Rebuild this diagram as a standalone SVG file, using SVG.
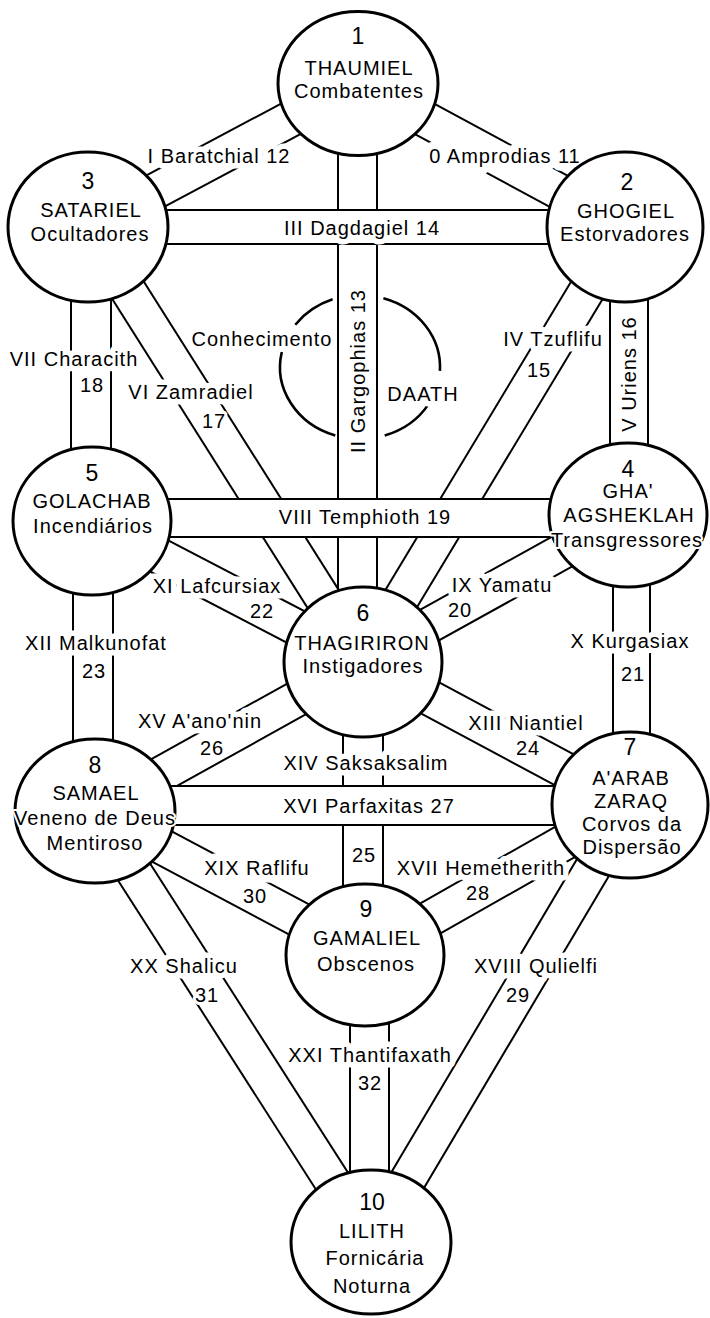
<svg xmlns="http://www.w3.org/2000/svg" width="710" height="1318" viewBox="0 0 710 1318">
<style>
.ln{stroke:#000;stroke-width:2;fill:none}
.bandbg{fill:#fff;stroke:none}
.arc{stroke:#000;stroke-width:2.6;fill:none}
.nd{fill:#fff;stroke:#000;stroke-width:3}
text{font-family:"Liberation Sans",Arial,sans-serif;font-size:20px;letter-spacing:1px;fill:#000;text-anchor:middle}
.lb{stroke:#fff;stroke-width:11;stroke-linejoin:round;paint-order:stroke}
.lbw{stroke:#fff;stroke-width:15;stroke-linejoin:round;paint-order:stroke}
.lbn{stroke:#fff;stroke-width:6;stroke-linejoin:round;paint-order:stroke}
.vt{stroke:none}
.nt{stroke:#fff;stroke-width:4;stroke-linejoin:round;paint-order:stroke}
.num{font-size:23px;letter-spacing:0}
</style>
<rect x="0" y="0" width="710" height="1318" fill="#fff"/>
<g id="connectors">
  <!-- diagonal paths -->
  <line class="ln" x1="349.5" y1="98.8" x2="616.5" y2="242.8"/>
  <line class="ln" x1="366.5" y1="67.2" x2="633.5" y2="211.2"/>
  <line class="ln" x1="349.5" y1="67.1" x2="79.5" y2="211.1"/>
  <line class="ln" x1="366.5" y1="98.9" x2="96.5" y2="242.9"/>
  <line class="ln" x1="609.6" y1="217.7" x2="347.6" y2="652.7"/>
  <line class="ln" x1="640.4" y1="236.3" x2="378.4" y2="671.3"/>
  <line class="ln" x1="72.8" y1="236.6" x2="347.8" y2="671.6"/>
  <line class="ln" x1="103.2" y1="217.4" x2="378.2" y2="652.4"/>
  <line class="ln" x1="619.3" y1="499.3" x2="354.3" y2="646.3"/>
  <line class="ln" x1="636.7" y1="530.7" x2="371.7" y2="677.7"/>
  <line class="ln" x1="83.7" y1="537" x2="354.7" y2="678"/>
  <line class="ln" x1="100.3" y1="505" x2="371.3" y2="646"/>
  <line class="ln" x1="354.5" y1="677.9" x2="621.5" y2="820.9"/>
  <line class="ln" x1="371.5" y1="646.1" x2="638.5" y2="789.1"/>
  <line class="ln" x1="354.3" y1="646.3" x2="86.3" y2="795.3"/>
  <line class="ln" x1="371.7" y1="677.7" x2="103.7" y2="826.7"/>
  <line class="ln" x1="621.1" y1="789.3" x2="357.1" y2="939.3"/>
  <line class="ln" x1="638.9" y1="820.7" x2="374.9" y2="970.7"/>
  <line class="ln" x1="614.5" y1="795.8" x2="355.5" y2="1232.8"/>
  <line class="ln" x1="645.5" y1="814.2" x2="386.5" y2="1251.2"/>
  <line class="ln" x1="86.6" y1="826.9" x2="357.6" y2="970.9"/>
  <line class="ln" x1="103.5" y1="795.1" x2="374.5" y2="939.1"/>
  <line class="ln" x1="79.8" y1="820.7" x2="355.8" y2="1251.7"/>
  <line class="ln" x1="110.2" y1="801.3" x2="386.2" y2="1232.3"/>
  <!-- vertical paths -->
  <line class="ln" x1="71" y1="227" x2="71" y2="521"/>
  <line class="ln" x1="111" y1="227" x2="111" y2="521"/>
  <line class="ln" x1="73" y1="521" x2="73" y2="811"/>
  <line class="ln" x1="113" y1="521" x2="113" y2="811"/>
  <line class="ln" x1="338" y1="83" x2="338" y2="662"/>
  <line class="ln" x1="377" y1="83" x2="377" y2="662"/>
  <line class="ln" x1="610" y1="227" x2="610" y2="515"/>
  <line class="ln" x1="648" y1="227" x2="648" y2="515"/>
  <line class="ln" x1="613" y1="515" x2="613" y2="805"/>
  <line class="ln" x1="650" y1="515" x2="650" y2="805"/>
  <line class="ln" x1="343" y1="662" x2="343" y2="955"/>
  <line class="ln" x1="383" y1="662" x2="383" y2="955"/>
  <line class="ln" x1="350" y1="955" x2="350" y2="1242"/>
  <line class="ln" x1="389" y1="955" x2="389" y2="1242"/>
  <!-- horizontal paths -->
  <rect class="bandbg" x="88" y="210" width="537" height="34"/>
  <line class="ln" x1="88" y1="210" x2="625" y2="210"/>
  <line class="ln" x1="88" y1="244" x2="625" y2="244"/>
  <rect class="bandbg" x="92" y="499" width="536" height="38"/>
  <line class="ln" x1="92" y1="499" x2="628" y2="499"/>
  <line class="ln" x1="92" y1="537" x2="628" y2="537"/>
  <rect class="bandbg" x="95" y="786" width="535" height="39"/>
  <line class="ln" x1="95" y1="786" x2="630" y2="786"/>
  <line class="ln" x1="95" y1="825" x2="630" y2="825"/>
  <!-- path labels -->
  <text class="lbw" x="505" y="163">0 Amprodias 11</text>
  <text class="lb" x="219" y="163">I Baratchial 12</text>
  <text class="vt" transform="translate(365,371) rotate(-90)">II Gargophias 13</text>
  <text class="lb" x="362" y="235">III Dagdagiel 14</text>
  <text class="lb" x="553" y="346">IV Tzuflifu</text>
  <text class="lbn" x="539" y="377">15</text>
  <text class="vt" transform="translate(636,374) rotate(-90)">V Uriens 16</text>
  <text class="lb" x="191" y="399">VI Zamradiel</text>
  <text class="lbn" x="214" y="428">17</text>
  <text class="lb" x="74" y="366">VII Characith</text>
  <text class="vt" x="92" y="392">18</text>
  <text class="lb" x="365" y="524">VIII Temphioth 19</text>
  <text class="lb" x="502" y="592">IX Yamatu</text>
  <text class="lbn" x="460" y="617">20</text>
  <text class="lb" x="630" y="648">X Kurgasiax</text>
  <text class="vt" x="633" y="681">21</text>
  <text class="lb" x="217" y="593">XI Lafcursiax</text>
  <text class="lbn" x="262" y="618">22</text>
  <text class="lb" x="96" y="650">XII Malkunofat</text>
  <text class="vt" x="94" y="678">23</text>
  <text class="lb" x="526" y="730">XIII Niantiel</text>
  <text class="lbn" x="528" y="755">24</text>
  <text class="lb" x="366" y="770">XIV Saksaksalim</text>
  <text class="vt" x="364" y="862">25</text>
  <text class="lb" x="200" y="728">XV A'ano'nin</text>
  <text class="lbn" x="212" y="755">26</text>
  <text class="lb" x="369" y="813">XVI Parfaxitas 27</text>
  <text class="lb" x="481" y="875">XVII Hemetherith</text>
  <text class="lbn" x="478" y="900">28</text>
  <text class="lb" x="536" y="973">XVIII Qulielfi</text>
  <text class="lbn" x="518" y="1002">29</text>
  <text class="lbw" x="257" y="875">XIX Raflifu</text>
  <text class="lbn" x="255" y="903">30</text>
  <text class="lb" x="184" y="973">XX Shalicu</text>
  <text class="lbn" x="207" y="1002">31</text>
  <text class="lb" x="370" y="1062">XXI Thantifaxath</text>
  <text class="vt" x="370" y="1090">32</text>
</g>
<g id="daath">
  <path class="arc" d="M 332.6 299.3 A 80 72 0 0 0 295.3 324.7"/>
  <path class="arc" d="M 281.8 352 A 80 72 0 0 0 335.3 435.5"/>
  <path class="arc" d="M 383.4 298.2 A 80 72 0 0 1 439.9 370.8"/>
  <path class="arc" d="M 428.6 404.1 A 80 72 0 0 1 384.7 435.5"/>
  <text class="lb" x="262" y="346">Conhecimento</text>
  <text class="lb" x="423" y="401">DAATH</text>
</g>
<g id="node1">
  <ellipse class="nd" cx="358" cy="83.5" rx="80" ry="72"/>
  <text class="nt num" x="358" y="44">1</text>
  <text class="nt" x="359" y="75">THAUMIEL</text>
  <text class="nt" x="359" y="98">Combatentes</text>
</g>
<g id="node2">
  <ellipse class="nd" cx="625" cy="227" rx="78" ry="75"/>
  <text class="nt num" x="627" y="190">2</text>
  <text class="nt" x="626" y="218">GHOGIEL</text>
  <text class="nt" x="625" y="241">Estorvadores</text>
</g>
<g id="node3">
  <ellipse class="nd" cx="88" cy="227" rx="80" ry="75"/>
  <text class="nt num" x="88" y="189">3</text>
  <text class="nt" x="91" y="217">SATARIEL</text>
  <text class="nt" x="90" y="241">Ocultadores</text>
</g>
<g id="node4">
  <ellipse class="nd" cx="628" cy="515" rx="79" ry="72"/>
  <text class="nt num" x="628" y="477">4</text>
  <text class="nt" x="628" y="498">GHA'</text>
  <text class="nt" x="629" y="522">AGSHEKLAH</text>
  <text class="nt" x="627" y="547">Transgressores</text>
</g>
<g id="node5">
  <ellipse class="nd" cx="92" cy="521" rx="79" ry="74"/>
  <text class="nt num" x="92" y="481">5</text>
  <text class="nt" x="92" y="508">GOLACHAB</text>
  <text class="nt" x="93" y="533">Incendiários</text>
</g>
<g id="node6">
  <ellipse class="nd" cx="363" cy="662" rx="79" ry="75"/>
  <text class="nt num" x="363" y="621">6</text>
  <text class="nt" x="362" y="650">THAGIRIRON</text>
  <text class="nt" x="363" y="673">Instigadores</text>
</g>
<g id="node7">
  <ellipse class="nd" cx="630" cy="805" rx="78" ry="73"/>
  <text class="nt num" x="630" y="755">7</text>
  <text class="nt" x="631" y="785">A'ARAB</text>
  <text class="nt" x="631" y="808">ZARAQ</text>
  <text class="nt" x="632" y="831">Corvos da</text>
  <text class="nt" x="632" y="854">Dispersão</text>
</g>
<g id="node8">
  <ellipse class="nd" cx="95" cy="811" rx="80" ry="72"/>
  <text class="nt num" x="95" y="773">8</text>
  <text class="nt" x="96" y="800">SAMAEL</text>
  <text class="nt" x="95" y="825">Veneno de Deus</text>
  <text class="nt" x="95" y="850">Mentiroso</text>
</g>
<g id="node9">
  <ellipse class="nd" cx="365" cy="955" rx="79" ry="71"/>
  <text class="nt num" x="366" y="917">9</text>
  <text class="nt" x="367" y="945">GAMALIEL</text>
  <text class="nt" x="366" y="971">Obscenos</text>
</g>
<g id="node10">
  <ellipse class="nd" cx="371" cy="1242" rx="80" ry="72"/>
  <text class="nt num" x="372" y="1210">10</text>
  <text class="nt" x="372" y="1238">LILITH</text>
  <text class="nt" x="375" y="1265">Fornicária</text>
  <text class="nt" x="372" y="1293">Noturna</text>
</g>
</svg>
